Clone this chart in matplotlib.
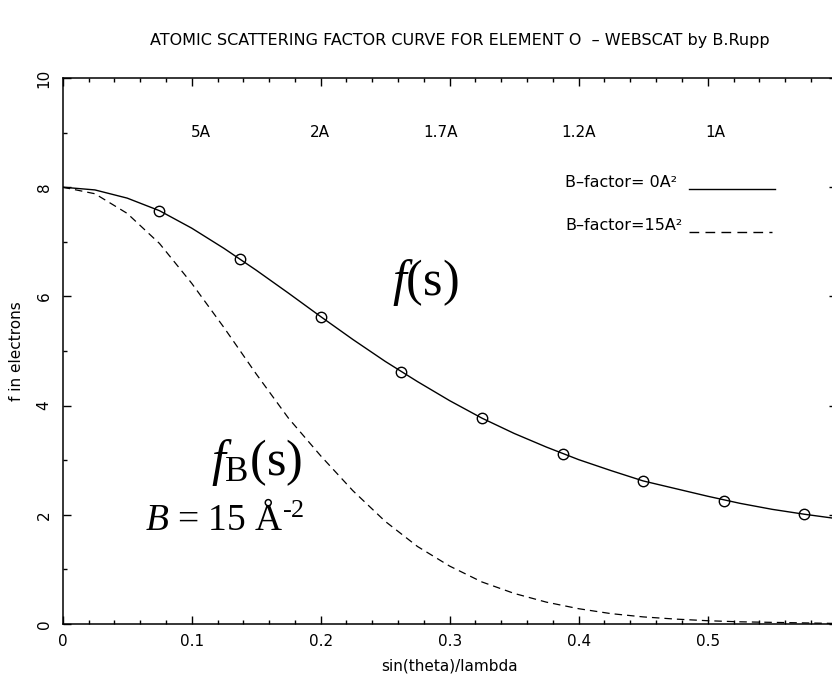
import matplotlib
matplotlib.use('Agg')
import matplotlib.pyplot as plt
from matplotlib.ticker import MultipleLocator, FixedLocator, FixedFormatter
from matplotlib.lines import Line2D

# ---- data ----
s = [0.0, 0.025, 0.05, 0.075, 0.1, 0.125, 0.15, 0.175, 0.2, 0.225, 0.25,
     0.275, 0.3, 0.325, 0.35, 0.375, 0.4, 0.425, 0.45, 0.475, 0.5, 0.525,
     0.55, 0.575, 0.6]
f_B0 = [8.00, 7.95, 7.80, 7.57, 7.25, 6.88, 6.48, 6.06, 5.63, 5.21, 4.81,
        4.44, 4.09, 3.77, 3.49, 3.24, 3.01, 2.81, 2.62, 2.48, 2.34, 2.21,
        2.10, 2.01, 1.93]
f_B15 = [8.00, 7.88, 7.52, 6.97, 6.24, 5.43, 4.58, 3.77, 3.08, 2.44, 1.88,
         1.42, 1.06, 0.77, 0.56, 0.40, 0.28, 0.19, 0.13, 0.09, 0.06, 0.04,
         0.03, 0.02, 0.01]
marker_s = [0.075, 0.1375, 0.2, 0.2625, 0.325, 0.3875, 0.45, 0.5125, 0.575]
marker_f = [7.57, 6.69, 5.63, 4.62, 3.78, 3.12, 2.62, 2.26, 2.02]

res_labels = ['5A', '2A', '1.7A', '1.2A', '1A']
res_pos = [0.107, 0.199, 0.293, 0.400, 0.506]

xtick_vals = [0.0, 0.1, 0.2, 0.3, 0.4, 0.5]
xtick_labels = ['0', '0.1', '0.2', '0.3', '0.4', '0.5']
ytick_vals = [0, 2, 4, 6, 8, 10]
ytick_labels = ['0', '2', '4', '6', '8', '10']

title = 'ATOMIC SCATTERING FACTOR CURVE FOR ELEMENT O  \u2013 WEBSCAT by B.Rupp'
legend_texts = ['B\u2013factor= 0A\u00b2', 'B\u2013factor=15A\u00b2']

# ---- style ----
plt.rcParams['font.family'] = ['DejaVu Sans']
plt.rcParams['mathtext.fontset'] = 'custom'
plt.rcParams['mathtext.rm'] = 'Liberation Serif'
plt.rcParams['mathtext.it'] = 'Liberation Serif:italic'

W, H = 832, 684
fig = plt.figure(figsize=(W / 100, H / 100), dpi=100)
fig.patch.set_facecolor('white')

x0px, x1px = 62.7, 836.7
ytop, ybot = 78.0, 624.0
ax = fig.add_axes([x0px / W, (H - ybot) / H, (x1px - x0px) / W, (ybot - ytop) / H])

def axfx(px):
    return (px - x0px) / (x1px - x0px)

def axfy(py):
    return (ybot - py) / (ybot - ytop)

ax.plot(s, f_B0, color='black', lw=1.0)
ax.plot(s, f_B15, color='black', lw=0.9, linestyle=(0, (6, 4)))
ax.plot(marker_s, marker_f, linestyle='none', marker='o', mfc='none',
        mec='black', ms=7.5, mew=1.0)

ax.set_xlim(0, 0.6)
ax.set_ylim(0, 10)

ax.xaxis.set_major_locator(FixedLocator(xtick_vals))
ax.xaxis.set_major_formatter(FixedFormatter(xtick_labels))
ax.xaxis.set_minor_locator(MultipleLocator(0.02))
ax.yaxis.set_major_locator(FixedLocator(ytick_vals))
ax.yaxis.set_major_formatter(FixedFormatter(ytick_labels))
ax.yaxis.set_minor_locator(MultipleLocator(1))

ax.tick_params(which='both', direction='in', top=True, right=True,
               width=1.0, color='black', labelsize=11)
ax.tick_params(which='major', length=6)
ax.tick_params(which='minor', length=3)
ax.tick_params(axis='x', pad=7)
ax.tick_params(axis='y', pad=8)
for lbl in ax.get_yticklabels():
    lbl.set_rotation(90)
    lbl.set_va('center')
for sp in ax.spines.values():
    sp.set_linewidth(1.1)

ax.set_xlabel('sin(theta)/lambda', fontsize=11, labelpad=7)
ax.set_ylabel('f in electrons', fontsize=11, labelpad=9)

fig.text(460 / W, 1 - 41 / H, title, ha='center', va='center', fontsize=11.5)

for lab, xp in zip(res_labels, res_pos):
    ax.text(xp, 9.0, lab, ha='center', va='center', fontsize=11)

# legend entries
ax.text(axfx(565), axfy(183), legend_texts[0], transform=ax.transAxes,
        ha='left', va='center', fontsize=11.5)
ax.text(axfx(565), axfy(226), legend_texts[1], transform=ax.transAxes,
        ha='left', va='center', fontsize=11.5)
ax.add_line(Line2D([axfx(689), axfx(775)], [axfy(189)] * 2, transform=ax.transAxes,
                   color='black', lw=1.0))
ax.add_line(Line2D([axfx(689), axfx(772)], [axfy(232)] * 2, transform=ax.transAxes,
                   color='black', lw=1.0, linestyle=(0, (7, 4.5))))

# large annotations
fig.text(425 / W, 1 - 283 / H, r'$f(\mathrm{s})$', ha='center', va='center',
         fontsize=36, family='Liberation Serif')
fig.text(256 / W, 1 - 463 / H, r'$f_{\mathrm{B}}(\mathrm{s})$', ha='center', va='center',
         fontsize=36, family='Liberation Serif')
fig.text(225 / W, 1 - 520 / H, '$B$ = 15 \u00c5$^{\\text{-2}}$',
         ha='center', va='center', fontsize=27, family='Liberation Serif')

fig.savefig('out.png', dpi=100, facecolor='white')
